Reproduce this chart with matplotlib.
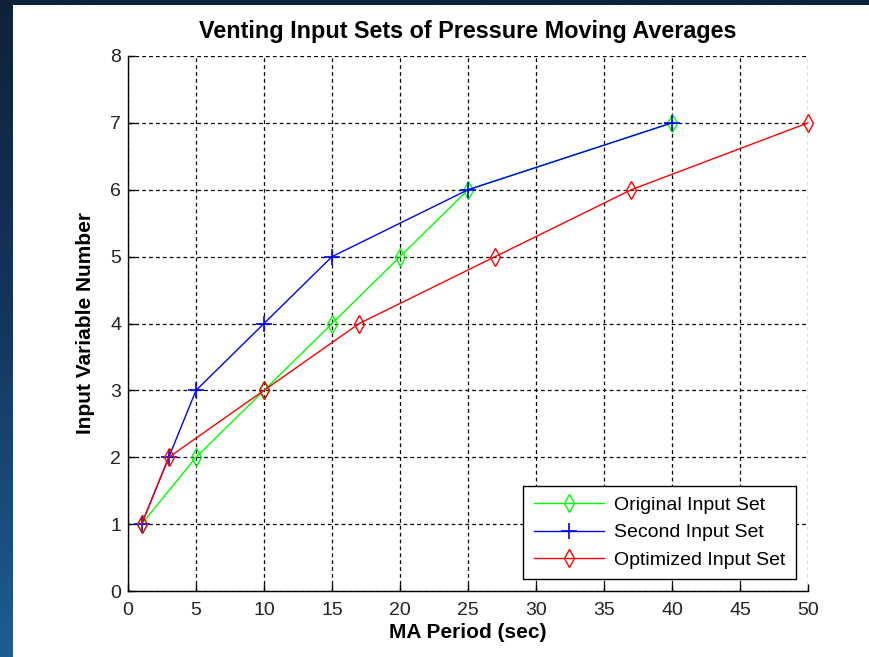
import numpy as np
import matplotlib
matplotlib.use("Agg")
import matplotlib.pyplot as plt
from matplotlib.patches import Rectangle
from matplotlib.colors import LinearSegmentedColormap

# Data
orig_x = [1, 5, 10, 15, 20, 25, 40]
orig_y = [1, 2, 3, 4, 5, 6, 7]
second_x = [1, 3, 5, 10, 15, 25, 40]
second_y = [1, 2, 3, 4, 5, 6, 7]
opt_x = [1, 3, 10, 17, 27, 37, 50]
opt_y = [1, 2, 3, 4, 5, 6, 7]
labels = ["Original Input Set", "Second Input Set", "Optimized Input Set"]
x_ticks = list(range(0, 51, 5))
y_ticks = list(range(0, 9))

W, H = 869, 657
fig = plt.figure(figsize=(W / 100, H / 100), dpi=100)

# background gradient (slide)
bg = fig.add_axes([0, 0, 1, 1], zorder=-10)
grad = np.linspace(0, 1, 256).reshape(-1, 1)
cmap = LinearSegmentedColormap.from_list("slide", ["#0e223b", "#14375e", "#1e5d93"])
bg.imshow(grad, aspect="auto", cmap=cmap, extent=[0, 1, 0, 1], origin="upper")
bg.add_patch(Rectangle((13 / W, 0), 1 - 13 / W, (H - 5) / H, transform=bg.transAxes,
                       facecolor="white", edgecolor="none"))
bg.set_xlim(0, 1)
bg.set_ylim(0, 1)
bg.axis("off")

fam = ["Liberation Sans", "DejaVu Sans"]
ax = fig.add_axes([128 / W, (H - 591) / H, (808 - 128) / W, (591 - 56) / H])
ax.set_facecolor("white")

ax.plot(orig_x, orig_y, color="#00ff00", lw=1.0, marker="d", ms=9, mfc="none",
        mec="#00ff00", mew=1.0, label=labels[0], clip_on=False)
ax.plot(second_x, second_y, color="#0000ff", lw=1.0, marker="+", ms=11,
        mew=1.2, label=labels[1], clip_on=False)
ax.plot(opt_x, opt_y, color="#ff0000", lw=1.0, marker="d", ms=9, mfc="none",
        mec="#ff0000", mew=1.0, label=labels[2], clip_on=False)

ax.set_xlim(0, 50)
ax.set_ylim(0, 8)
ax.set_xticks(x_ticks)
ax.set_yticks(y_ticks)
ax.grid(True, color="black", linestyle=(0, (3, 2.5)), linewidth=0.9)
for s in ["top", "right"]:
    ax.spines[s].set_visible(False)
for s in ["left", "bottom"]:
    ax.spines[s].set_linewidth(1.0)
ax.tick_params(direction="in", length=5, width=1.0, labelsize=14,
               top=False, right=False)
ax.tick_params(axis="x", pad=8)
ax.tick_params(axis="y", pad=5)
for lab in ax.get_xticklabels() + ax.get_yticklabels():
    lab.set_family(fam)
    lab.set_color("#222222")

ax.set_title("Venting Input Sets of Pressure Moving Averages", fontsize=16.8,
             fontweight="bold", family=fam, pad=13)
ax.set_xlabel("MA Period (sec)", fontsize=15, fontweight="bold", family=fam, labelpad=3)
ax.set_ylabel("Input Variable Number", fontsize=15, fontweight="bold", family=fam, labelpad=11)

leg = ax.legend(loc="lower right", prop={"family": fam, "size": 14},
                fancybox=False, edgecolor="black", framealpha=1, borderpad=0.55,
                handlelength=3.6, handletextpad=0.55, labelspacing=0.5,
                borderaxespad=0.6)
leg.get_frame().set_linewidth(1.0)

fig.savefig("out.png", dpi=100)
